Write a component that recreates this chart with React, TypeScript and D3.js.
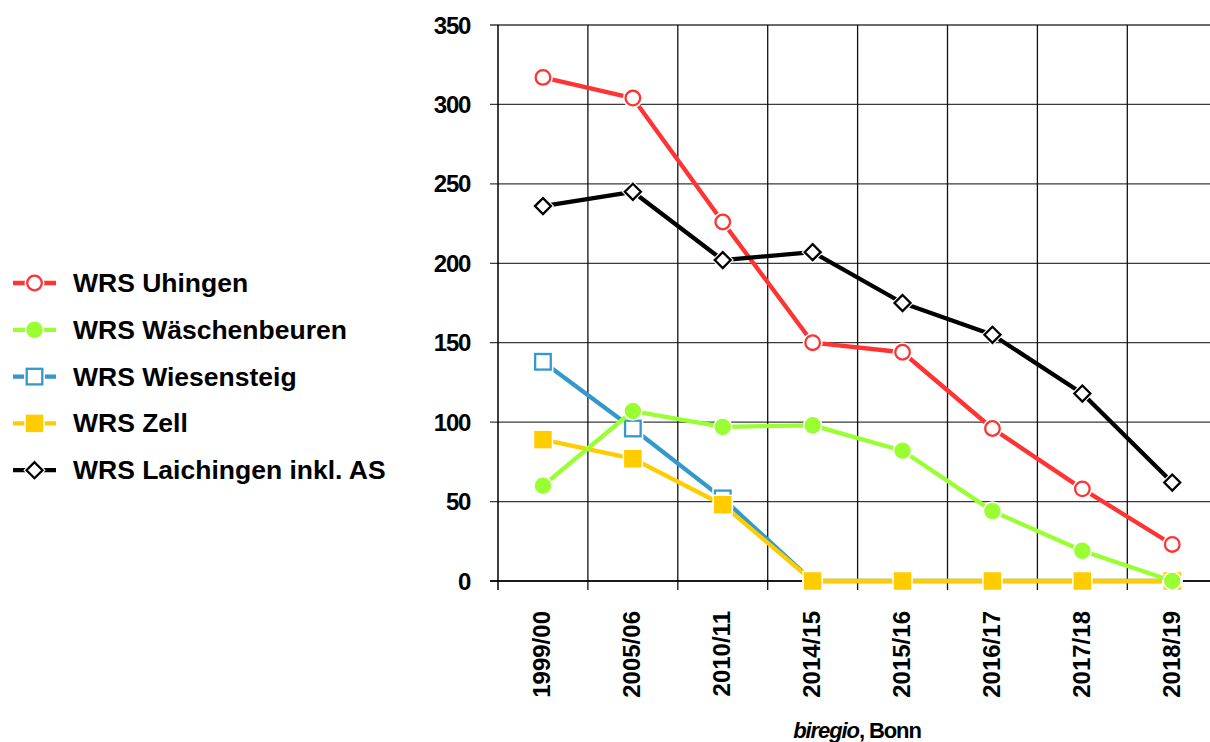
import { useEffect, useRef } from "react";
import * as d3 from "d3";

const years = ["1999/00", "2005/06", "2010/11", "2014/15", "2015/16", "2016/17", "2017/18", "2018/19"];

const uhingen = [317, 304, 226, 150, 144, 96, 58, 23];
const waeschenbeuren = [60, 107, 97, 98, 82, 44, 19, 0];
const wiesensteig = [138, 96, 52, 0, 0, 0, 0, 0];
const zell = [89, 77, 48, 0, 0, 0, 0, 0];
const laichingen = [236, 245, 202, 207, 175, 155, 118, 62];

const yTicks = [0, 50, 100, 150, 200, 250, 300, 350];

type Marker = "circleOpen" | "circle" | "squareOpen" | "square" | "diamond";

const series: { name: string; values: number[]; color: string; marker: Marker }[] = [
  { name: "WRS Uhingen", values: uhingen, color: "#ff3333", marker: "circleOpen" },
  { name: "WRS Wäschenbeuren", values: waeschenbeuren, color: "#99ff33", marker: "circle" },
  { name: "WRS Wiesensteig", values: wiesensteig, color: "#3399cc", marker: "squareOpen" },
  { name: "WRS Zell", values: zell, color: "#ffcc00", marker: "square" },
  { name: "WRS Laichingen inkl. AS", values: laichingen, color: "#000000", marker: "diamond" }
];

// zeichnet das Symbol mittig auf (x, y)
function drawMarker(g: d3.Selection<SVGGElement, unknown, null, undefined>, m: Marker, color: string, x: number, y: number) {
  if (m === "circleOpen") {
    g.append("circle").attr("cx", x).attr("cy", y).attr("r", 9).attr("fill", "#fff").attr("stroke", "#fff").attr("stroke-width", 2);
    g.append("circle").attr("cx", x).attr("cy", y).attr("r", 7.3).attr("fill", "#fff").attr("stroke", color).attr("stroke-width", 2.3);
  } else if (m === "circle") {
    g.append("circle").attr("cx", x).attr("cy", y).attr("r", 9).attr("fill", color).attr("stroke", "#fff").attr("stroke-width", 1.5);
  } else if (m === "squareOpen") {
    g.append("rect").attr("x", x - 9).attr("y", y - 9).attr("width", 18).attr("height", 18).attr("fill", "#fff").attr("stroke", "#fff").attr("stroke-width", 3);
    g.append("rect").attr("x", x - 7.8).attr("y", y - 7.8).attr("width", 15.6).attr("height", 15.6).attr("fill", "#fff").attr("stroke", color).attr("stroke-width", 2.3);
  } else if (m === "square") {
    g.append("rect").attr("x", x - 9.5).attr("y", y - 9.5).attr("width", 19).attr("height", 19).attr("fill", color).attr("stroke", "#fff").attr("stroke-width", 1.5);
  } else {
    const s = 8;
    const pts = `${x},${y - s} ${x + s},${y} ${x},${y + s} ${x - s},${y}`;
    g.append("polygon").attr("points", pts).attr("fill", "#fff").attr("stroke", "#fff").attr("stroke-width", 4.5);
    g.append("polygon").attr("points", pts).attr("fill", "#fff").attr("stroke", color).attr("stroke-width", 2.3);
  }
}

const App = () => {
  const svgRef = useRef<SVGSVGElement | null>(null);

  useEffect(() => {
    const svg = d3.select(svgRef.current);
    svg.selectAll("*").remove();

    const width = 1210;
    const height = 742;
    const left = 498;
    const top = 25;
    const bottom = 581;
    const step = 89.9;
    const right = left + step * years.length;

    const font = "'Liberation Sans', Arial, sans-serif";

    const x = d3.scaleBand().domain(years).range([left, right]).paddingInner(0).paddingOuter(0);
    const y = d3.scaleLinear().domain([0, 350]).range([bottom, top]);
    const cx = (d: string) => (x(d) ?? 0) + x.bandwidth() / 2;

    svg.attr("width", width).attr("height", height);

    // Gitter
    const grid = svg.append("g");
    grid.selectAll("line.h")
      .data(yTicks)
      .enter()
      .append("line")
      .attr("x1", left - 8)
      .attr("x2", right)
      .attr("y1", d => y(d))
      .attr("y2", d => y(d))
      .attr("stroke", "#3a3a3a")
      .attr("stroke-width", 1.3);
    grid.selectAll("line.v")
      .data(years.slice(1))
      .enter()
      .append("line")
      .attr("x1", d => x(d) ?? 0)
      .attr("x2", d => x(d) ?? 0)
      .attr("y1", top)
      .attr("y2", bottom + 9)
      .attr("stroke", "#111")
      .attr("stroke-width", 1.3);
    // Achsen
    svg.append("line").attr("x1", left).attr("x2", left).attr("y1", top).attr("y2", bottom + 9).attr("stroke", "#000").attr("stroke-width", 1.5);
    svg.append("line").attr("x1", left - 8).attr("x2", right).attr("y1", bottom).attr("y2", bottom).attr("stroke", "#000").attr("stroke-width", 1.5);

    // Y-Beschriftung
    svg.selectAll("text.ytick")
      .data(yTicks)
      .enter()
      .append("text")
      .attr("x", 470)
      .attr("y", d => y(d) + 8.5)
      .attr("text-anchor", "end")
      .attr("font-family", font)
      .attr("font-weight", "bold")
      .attr("font-size", 24)
      .attr("letter-spacing", -1.3)
      .text(d => d);

    // X-Beschriftung
    svg.selectAll("text.xtick")
      .data(years)
      .enter()
      .append("text")
      .attr("transform", d => `translate(${cx(d) + 7.5},611) rotate(-90)`)
      .attr("text-anchor", "end")
      .attr("font-family", font)
      .attr("font-weight", "bold")
      .attr("font-size", 24)
      .text(d => d);

    // Linien
    const lines = svg.append("g");
    const order = [2, 3, 1, 0, 4];
    order.forEach(i => {
      const s = series[i];
      const line = d3.line<number>()
        .x((_, j) => cx(years[j]))
        .y(d => y(d));
      lines.append("path")
        .datum(s.values)
        .attr("d", line)
        .attr("fill", "none")
        .attr("stroke", s.color)
        .attr("stroke-width", 4.3)
        .attr("stroke-linejoin", "round");
      const mg = lines.append("g");
      s.values.forEach((v, j) => drawMarker(mg, s.marker, s.color, cx(years[j]), y(v)));
    });

    // Legende
    const legend = svg.append("g");
    series.forEach((s, i) => {
      const ly = 283 + i * 46.8;
      const lg = legend.append("g");
      lg.append("line").attr("x1", 13).attr("x2", 56).attr("y1", ly).attr("y2", ly).attr("stroke", s.color).attr("stroke-width", 4.3);
      drawMarker(lg, s.marker, s.color, 34.5, ly);
      lg.append("text")
        .attr("x", 73)
        .attr("y", ly + 9)
        .attr("font-family", font)
        .attr("font-weight", "bold")
        .attr("font-size", 26.5)
        .text(s.name);
    });

    // Quelle
    const src = svg.append("text")
      .attr("x", 857)
      .attr("y", 738)
      .attr("text-anchor", "middle")
      .attr("font-family", font)
      .attr("font-weight", "bold")
      .attr("font-size", 22)
      .attr("letter-spacing", -1.1);
    src.append("tspan").attr("font-style", "italic").text("biregio");
    src.append("tspan").text(", Bonn");
  }, []);

  return <svg ref={svgRef} style={{ position: "absolute", left: 0, top: 0 }}></svg>;
};

export default App;
